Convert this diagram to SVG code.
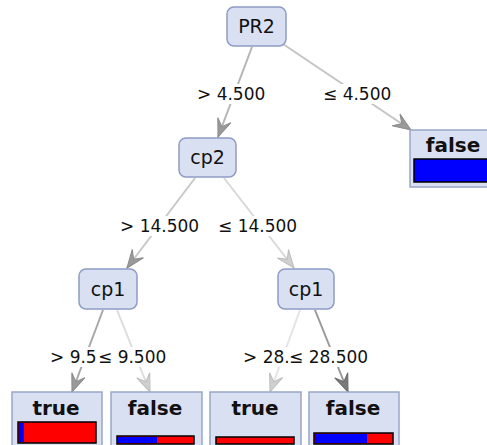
<svg xmlns="http://www.w3.org/2000/svg" width="487" height="445" viewBox="0 0 487 445">
<style>
.node rect{fill:#d9e0f2;stroke:#8d9cc4;stroke-width:1.5}
.node text{font-family:"DejaVu Sans",sans-serif;font-size:19px;fill:#111;text-anchor:middle}
.leaf .box{fill:#d9e0f2;stroke:#98a6c8;stroke-width:1.5}
.leaf text{font-family:"DejaVu Sans",sans-serif;font-weight:bold;font-size:20px;fill:#111;text-anchor:middle}
.bar{stroke:#000;stroke-width:1.5}
.b{fill:#0000ff}
.r{fill:#ff0000}
.lbl{font-family:"DejaVu Sans",sans-serif;font-size:17px;fill:#111}
.bg{fill:#fff}
</style>
<defs>
<marker id="ah" viewBox="0 0 20 16" refX="19" refY="8" markerWidth="20" markerHeight="16" markerUnits="userSpaceOnUse" orient="auto">
<path d="M19,8 L1,1 L8,8 L1,15 Z" fill="#9a9a9a" stroke="#8a8a8a" stroke-width="1"/>
</marker>
<marker id="ahl" viewBox="0 0 20 16" refX="19" refY="8" markerWidth="20" markerHeight="16" markerUnits="userSpaceOnUse" orient="auto">
<path d="M19,8 L1,1 L8,8 L1,15 Z" fill="#cfcfcf" stroke="#bdbdbd" stroke-width="1"/>
</marker>
<marker id="ahd" viewBox="0 0 20 16" refX="19" refY="8" markerWidth="20" markerHeight="16" markerUnits="userSpaceOnUse" orient="auto">
<path d="M19,8 L1,1 L8,8 L1,15 Z" fill="#7a7a7a" stroke="#6a6a6a" stroke-width="1"/>
</marker>
</defs>
<g id="connectors" fill="none" stroke-width="2">
<line x1="252" y1="47" x2="218" y2="137" stroke="#b5b5b5" marker-end="url(#ah)"/>
<line x1="283" y1="44" x2="411" y2="130" stroke="#c4c4c4" marker-end="url(#ah)"/>
<line x1="195" y1="178" x2="127" y2="268" stroke="#c8c8c8" marker-end="url(#ah)"/>
<line x1="224" y1="178" x2="294" y2="268" stroke="#d8d8d8" marker-end="url(#ahl)"/>
<line x1="103" y1="310" x2="72" y2="392" stroke="#a8a8a8" marker-end="url(#ah)"/>
<line x1="117" y1="310" x2="150" y2="392" stroke="#dcdcdc" marker-end="url(#ahl)"/>
<line x1="300" y1="310" x2="270" y2="392" stroke="#e4e4e4" marker-end="url(#ahl)"/>
<line x1="315" y1="310" x2="348" y2="392" stroke="#999" marker-end="url(#ahd)"/>
<g id="labels">
<rect class="bg" x="195" y="84" width="76" height="20"/>
<text class="lbl" x="197" y="100">&gt; 4.500</text>
<rect class="bg" x="321" y="84" width="76" height="20"/>
<text class="lbl" x="323" y="100">≤ 4.500</text>
<rect class="bg" x="118" y="216" width="86" height="20"/>
<text class="lbl" x="120" y="232">&gt; 14.500</text>
<rect class="bg" x="216" y="216" width="86" height="20"/>
<text class="lbl" x="218" y="232">≤ 14.500</text>
<rect class="bg" x="48" y="347" width="74" height="20"/>
<text class="lbl" x="50" y="363">&gt; 9.5</text>
<rect class="bg" x="97" y="347" width="74" height="20"/>
<text class="lbl" x="98" y="363">≤ 9.500</text>
<rect class="bg" x="241" y="347" width="86" height="20"/>
<text class="lbl" x="243" y="363">&gt; 28.</text>
<rect class="bg" x="289" y="347" width="87" height="20"/>
<text class="lbl" x="289" y="363">≤ 28.500</text>
</g>
</g>
<g id="n_PR2" class="node">
<rect x="227" y="7" width="59" height="39" rx="7"/>
<text x="256.5" y="33">PR2</text>
</g>
<g id="n_cp2" class="node">
<rect x="179" y="138" width="57" height="39" rx="7"/>
<text x="207.5" y="164">cp2</text>
</g>
<g id="n_cp1a" class="node">
<rect x="79" y="269" width="58" height="40" rx="7"/>
<text x="108" y="296">cp1</text>
</g>
<g id="n_cp1b" class="node">
<rect x="278" y="269" width="56" height="40" rx="7"/>
<text x="306" y="296">cp1</text>
</g>
<g id="l_false_top" class="leaf">
<rect class="box" x="410" y="130" width="90" height="57"/>
<text x="453" y="152">false</text>
<rect class="bar b" x="414" y="159" width="90" height="23"/>
</g>
<g id="l_true1" class="leaf">
<rect class="box" x="12" y="392" width="90" height="60"/>
<text x="56" y="415">true</text>
<rect class="bar r" x="18" y="422" width="78" height="21"/>
<rect class="b" x="19" y="423" width="5" height="19"/>
</g>
<g id="l_false1" class="leaf">
<rect class="box" x="111" y="392" width="91" height="60"/>
<text x="155" y="415">false</text>
<rect class="bar r" x="117" y="436" width="77" height="8"/>
<rect class="b" x="118" y="437" width="39" height="6"/>
</g>
<g id="l_true2" class="leaf">
<rect class="box" x="210" y="392" width="91" height="60"/>
<text x="255" y="415">true</text>
<rect class="bar r" x="216" y="437" width="78" height="7"/>
</g>
<g id="l_false2" class="leaf">
<rect class="box" x="309" y="392" width="90" height="60"/>
<text x="353" y="415">false</text>
<rect class="bar r" x="314" y="433" width="79" height="11"/>
<rect class="b" x="315" y="434" width="52" height="9"/>
</g>
</svg>
